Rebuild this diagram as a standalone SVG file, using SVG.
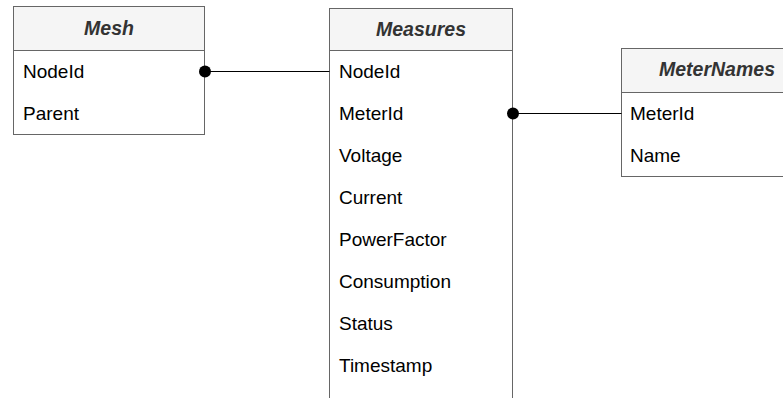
<svg xmlns="http://www.w3.org/2000/svg" width="783" height="398" viewBox="0 0 783 398">
<style>
.box{fill:#ffffff;stroke:#666666;stroke-width:1}
.hdr{fill:#f5f5f5;stroke:#666666;stroke-width:1}
.title{font-family:"Liberation Sans",Arial,sans-serif;font-size:19.5px;font-weight:bold;font-style:italic;fill:#333333;text-anchor:middle}
.row{font-family:"Liberation Sans",Arial,sans-serif;font-size:19px;fill:#000000}
.edge{stroke:#000000;stroke-width:1;fill:none}
</style>
<defs>
<marker id="dot" markerWidth="14" markerHeight="14" refX="7" refY="7" markerUnits="userSpaceOnUse" overflow="visible">
<circle cx="7" cy="7" r="6" fill="#000000"/>
</marker>
</defs>
<rect width="783" height="398" fill="#ffffff"/>
<g id="mesh">
<rect class="box" x="13.5" y="6.5" width="191" height="128"/>
<rect class="hdr" x="13.5" y="6.5" width="191" height="44"/>
<text class="title" x="109" y="35">Mesh</text>
<text class="row" x="23" y="78">NodeId</text>
<text class="row" x="23" y="120">Parent</text>
</g>
<g id="measures">
<rect class="box" x="329.5" y="8.5" width="183" height="400"/>
<rect class="hdr" x="329.5" y="8.5" width="183" height="42"/>
<text class="title" x="421" y="36">Measures</text>
<text class="row" x="339" y="78">NodeId</text>
<text class="row" x="339" y="120">MeterId</text>
<text class="row" x="339" y="162">Voltage</text>
<text class="row" x="339" y="204">Current</text>
<text class="row" x="339" y="246">PowerFactor</text>
<text class="row" x="339" y="288">Consumption</text>
<text class="row" x="339" y="330">Status</text>
<text class="row" x="339" y="372">Timestamp</text>
</g>
<g id="meternames">
<rect class="box" x="621.5" y="48.5" width="192" height="128"/>
<rect class="hdr" x="621.5" y="48.5" width="192" height="44"/>
<text class="title" x="717" y="76">MeterNames</text>
<text class="row" x="630" y="120">MeterId</text>
<text class="row" x="630" y="162">Name</text>
</g>
<g id="connectors">
<path class="edge" d="M329.5 71.5 H205" marker-end="url(#dot)"/>
<path class="edge" d="M621.5 113.5 H513" marker-end="url(#dot)"/>
</g>
</svg>
